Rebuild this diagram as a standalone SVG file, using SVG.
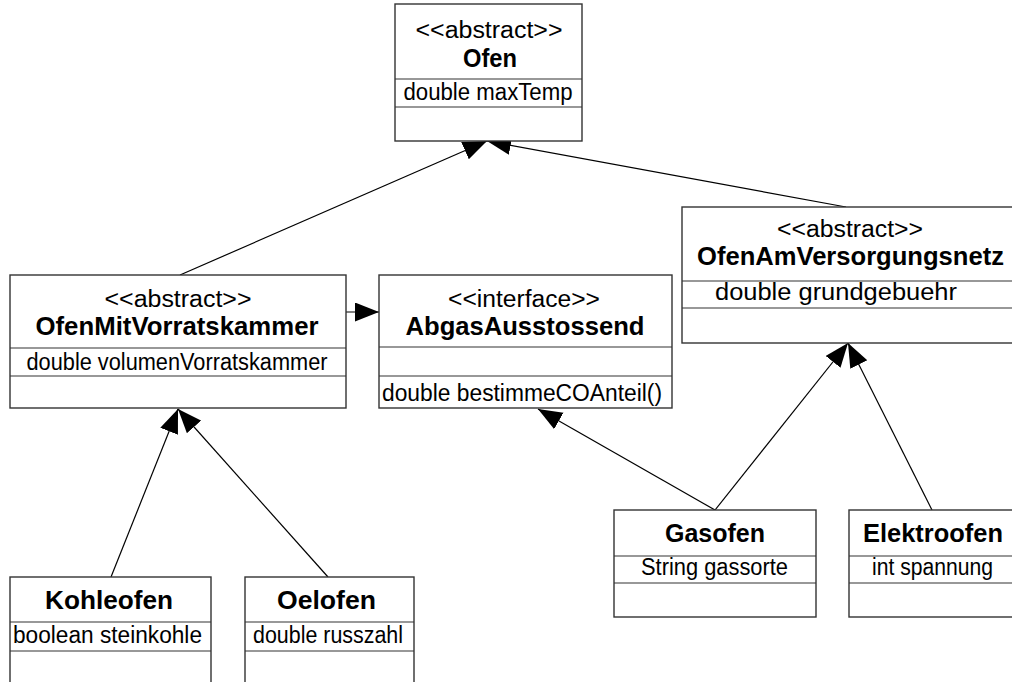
<svg xmlns="http://www.w3.org/2000/svg" width="1012" height="682" viewBox="0 0 1012 682">
<style>
.box{fill:#ffffff;stroke:#333333;stroke-width:1.4}
.div{stroke:#333333;stroke-width:1.2}
.t{font-family:"Liberation Sans",Arial,sans-serif;font-size:23px;fill:#000;text-anchor:middle}
.b{font-family:"Liberation Sans",Arial,sans-serif;font-size:25px;font-weight:bold;fill:#000;text-anchor:middle}
.c{stroke:#000;stroke-width:1.2;fill:none;marker-end:url(#tri)}
</style>
<defs>
<marker id="tri" markerUnits="userSpaceOnUse" markerWidth="25" markerHeight="20" refX="24" refY="9.5" orient="auto">
<path d="M0,0 L24,9.5 L0,19 z" fill="#000"/>
</marker>
</defs>
<rect width="1012" height="682" fill="#ffffff"/>
<g id="connectors">
<line class="c" x1="180" y1="275" x2="487" y2="141"/>
<line class="c" x1="846" y1="207" x2="487" y2="141"/>
<line class="c" x1="346" y1="312" x2="379" y2="312"/>
<line class="c" x1="111" y1="577" x2="178" y2="409"/>
<line class="c" x1="328" y1="577" x2="178" y2="409"/>
<line class="c" x1="715" y1="510" x2="538" y2="409"/>
<line class="c" x1="715" y1="510" x2="848" y2="343"/>
<line class="c" x1="932" y1="510" x2="848" y2="343"/>
</g>
<g id="Ofen">
<rect class="box" x="395" y="4" width="187" height="137"/>
<line class="div" x1="395" y1="79" x2="582" y2="79"/>
<line class="div" x1="395" y1="107" x2="582" y2="107"/>
<text class="t" x="489" y="38" textLength="147" lengthAdjust="spacingAndGlyphs">&lt;&lt;abstract&gt;&gt;</text>
<text class="b" x="490" y="67" textLength="54" lengthAdjust="spacingAndGlyphs">Ofen</text>
<text class="t" x="488" y="100" textLength="169" lengthAdjust="spacingAndGlyphs">double maxTemp</text>
</g>
<g id="OfenMitVorratskammer">
<rect class="box" x="10" y="275" width="336" height="133"/>
<line class="div" x1="10" y1="348" x2="346" y2="348"/>
<line class="div" x1="10" y1="376" x2="346" y2="376"/>
<text class="t" x="178" y="307" textLength="147" lengthAdjust="spacingAndGlyphs">&lt;&lt;abstract&gt;&gt;</text>
<text class="b" x="177" y="335" textLength="283" lengthAdjust="spacingAndGlyphs">OfenMitVorratskammer</text>
<text class="t" x="177" y="370" textLength="301" lengthAdjust="spacingAndGlyphs">double volumenVorratskammer</text>
</g>
<g id="AbgasAusstossend">
<rect class="box" x="379" y="275" width="293" height="133"/>
<line class="div" x1="379" y1="347" x2="672" y2="347"/>
<line class="div" x1="379" y1="376" x2="672" y2="376"/>
<text class="t" x="524" y="307" textLength="152" lengthAdjust="spacingAndGlyphs">&lt;&lt;interface&gt;&gt;</text>
<text class="b" x="525" y="335" textLength="239" lengthAdjust="spacingAndGlyphs">AbgasAusstossend</text>
<text class="t" x="522" y="401" textLength="280" lengthAdjust="spacingAndGlyphs">double bestimmeCOAnteil()</text>
</g>
<g id="OfenAmVersorgungsnetz">
<rect class="box" x="682" y="207" width="336" height="136"/>
<line class="div" x1="682" y1="281" x2="1018" y2="281"/>
<line class="div" x1="682" y1="308" x2="1018" y2="308"/>
<text class="t" x="850" y="237" textLength="146" lengthAdjust="spacingAndGlyphs">&lt;&lt;abstract&gt;&gt;</text>
<text class="b" x="850.5" y="265" textLength="307" lengthAdjust="spacingAndGlyphs">OfenAmVersorgungsnetz</text>
<text class="t" x="836" y="300" textLength="242" lengthAdjust="spacingAndGlyphs">double grundgebuehr</text>
</g>
<g id="Kohleofen">
<rect class="box" x="10" y="577" width="201" height="120"/>
<line class="div" x1="10" y1="622" x2="211" y2="622"/>
<line class="div" x1="10" y1="651" x2="211" y2="651"/>
<text class="b" x="109" y="609" textLength="128" lengthAdjust="spacingAndGlyphs">Kohleofen</text>
<text class="t" x="107.5" y="643" textLength="189" lengthAdjust="spacingAndGlyphs">boolean steinkohle</text>
</g>
<g id="Oelofen">
<rect class="box" x="245" y="577" width="169" height="120"/>
<line class="div" x1="245" y1="622" x2="414" y2="622"/>
<line class="div" x1="245" y1="651" x2="414" y2="651"/>
<text class="b" x="326.5" y="609" textLength="99" lengthAdjust="spacingAndGlyphs">Oelofen</text>
<text class="t" x="328" y="643" textLength="150" lengthAdjust="spacingAndGlyphs">double russzahl</text>
</g>
<g id="Gasofen">
<rect class="box" x="614" y="510" width="202" height="107"/>
<line class="div" x1="614" y1="556" x2="816" y2="556"/>
<line class="div" x1="614" y1="583" x2="816" y2="583"/>
<text class="b" x="715" y="542" textLength="100" lengthAdjust="spacingAndGlyphs">Gasofen</text>
<text class="t" x="714.5" y="575" textLength="147" lengthAdjust="spacingAndGlyphs">String gassorte</text>
</g>
<g id="Elektroofen">
<rect class="box" x="849" y="510" width="168" height="107"/>
<line class="div" x1="849" y1="556" x2="1017" y2="556"/>
<line class="div" x1="849" y1="583" x2="1017" y2="583"/>
<text class="b" x="933" y="542" textLength="140" lengthAdjust="spacingAndGlyphs">Elektroofen</text>
<text class="t" x="932.5" y="575" textLength="121" lengthAdjust="spacingAndGlyphs">int spannung</text>
</g>
</svg>
